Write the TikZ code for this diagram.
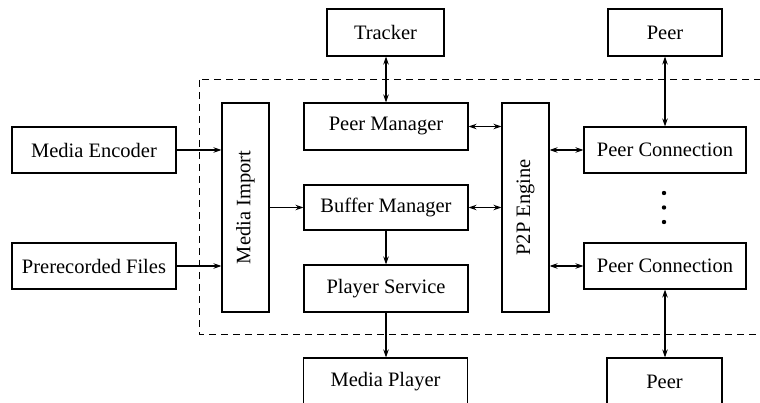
\documentclass[tikz,border=0pt]{standalone}
\usepackage{fontspec}
\setmainfont{Liberation Serif}
\usetikzlibrary{arrows.meta}
\begin{document}
\begin{tikzpicture}[x=1pt,y=-1pt,
  box/.style={draw, line width=1.1pt, inner sep=0pt, font=\fontsize{20.5}{24}\selectfont},
  link/.style={line width=1.1pt, -{Stealth[length=8pt,width=5.5pt]}},
  biglink/.style={line width=1.1pt, {Stealth[length=8pt,width=5.5pt]}-{Stealth[length=8pt,width=5.5pt]}}]
\useasboundingbox (0,0) rectangle (760,403);
\clip (0,0) rectangle (760,403);
% system boundary
\draw[dashed, line width=1pt, dash pattern=on 7pt off 5pt] (199,80) rectangle (790,334);
% external components
\node[box, minimum width=117, minimum height=47] (tracker) at (385.5,32.5) {Tracker};
\node[box, minimum width=114, minimum height=47] (peerT) at (665,32.5) {Peer};
\node[box, minimum width=164, minimum height=46] (enc) at (94,150) {Media Encoder};
\node[box, minimum width=164, minimum height=46] (pre) at (94,266) {Prerecorded Files};
\node[box, minimum width=164, minimum height=47] (mp) at (385.5,381.5) {Media Player};
\node[box, minimum width=115, minimum height=47] (peerB) at (664.5,381.5) {Peer};
% internal modules
\node[box, minimum width=47, minimum height=209] (imp) at (245.5,207.5) {\rotatebox{90}{Media Import}};
\node[box, minimum width=164, minimum height=47] (pm) at (386,126.5) {Peer Manager};
\node[box, minimum width=164, minimum height=45] (bm) at (386,207.5) {Buffer Manager};
\node[box, minimum width=164, minimum height=47] (ps) at (386,288.5) {Player Service};
\node[box, minimum width=47, minimum height=209] (p2p) at (525.5,207.5) {\rotatebox{90}{P2P Engine}};
\node[box, minimum width=162, minimum height=46] (pc1) at (665,150) {Peer Connection};
\node[box, minimum width=162, minimum height=46] (pc2) at (665,266) {Peer Connection};
% ellipsis between the peer connections
\foreach \yy in {193,207.5,222} \fill (664,\yy) circle (2.2pt);
% data flow
\draw[link] (enc.east) -- (imp.west |- enc.east);
\draw[link] (pre.east) -- (imp.west |- pre.east);
\draw[link] (imp.east |- bm.west) -- (bm.west);
\draw[link] (bm.south) -- (ps.north);
\draw[link] (ps.south) -- (ps.south |- mp.north);
\draw[biglink] (tracker.south -| pm.north) -- (pm.north);
\draw[biglink] (pm.east) -- (p2p.west |- pm.east);
\draw[biglink] (bm.east) -- (p2p.west |- bm.east);
\draw[biglink] (p2p.east |- pc1.west) -- (pc1.west);
\draw[biglink] (p2p.east |- pc2.west) -- (pc2.west);
\draw[biglink] (peerT.south) -- (peerT.south |- pc1.north);
\draw[biglink] (pc2.south) -- (pc2.south |- peerB.north);
\end{tikzpicture}
\end{document}
